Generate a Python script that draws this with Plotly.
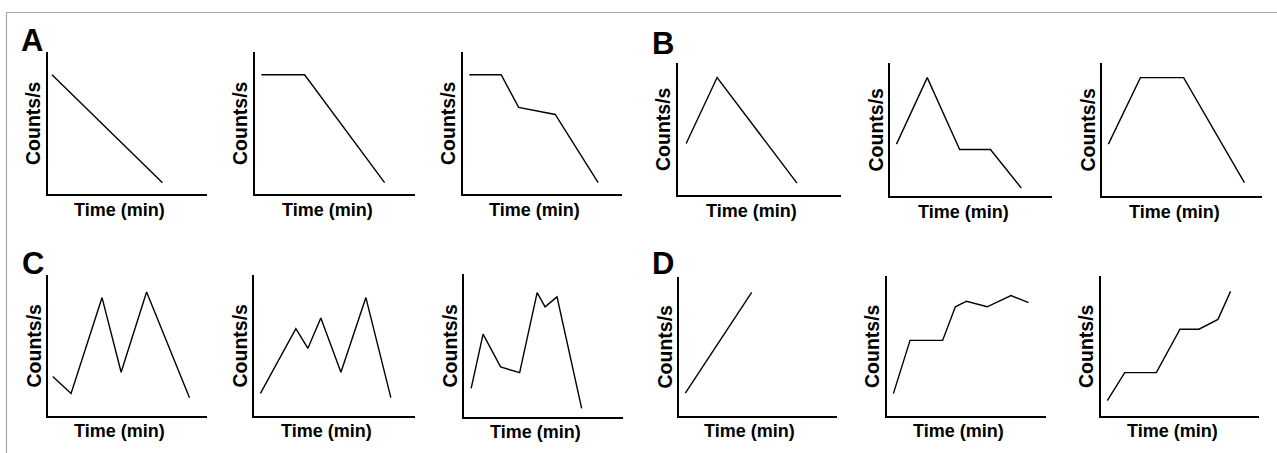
import plotly.graph_objects as go

W, H = 1277, 453

# ---- data (arbitrary units: time 0-100, counts/s 0-100) ----
a1_x = [2.5, 72]
a1_y = [84, 8]
a2_x = [4, 31, 81]
a2_y = [84, 84, 8]
a3_x = [4, 24, 35, 58, 85]
a3_y = [84, 84, 61, 56, 8]

b1_x = [5, 24, 73]
b1_y = [39, 89, 9]
b2_x = [4, 23, 43, 62, 81]
b2_y = [39, 89, 35, 35, 6]
b3_x = [4, 24, 51, 89]
b3_y = [39, 89, 89, 10]

c1_x = [3, 14.5, 34, 46, 62, 89]
c1_y = [28, 16, 84, 31, 88, 13]
c2_x = [4, 26, 33.5, 41.5, 54, 69.5, 85]
c2_y = [16, 62, 48, 69.5, 31, 84, 13]
c3_x = [4.5, 12, 23, 35, 46, 51, 58.5, 74]
c3_y = [20, 58, 35, 31, 87, 77, 84, 6]

d1_x = [4, 46]
d1_y = [16.5, 89]
d2_x = [4, 14.5, 35, 43, 50, 63, 78, 89]
d2_y = [16, 54, 54, 78, 82, 78, 86, 81]
d3_x = [4, 15, 35, 50, 62, 74, 82]
d3_y = [11, 31, 31, 62, 62, 69, 89]

series = [
    (a1_x, a1_y), (a2_x, a2_y), (a3_x, a3_y),
    (b1_x, b1_y), (b2_x, b2_y), (b3_x, b3_y),
    (c1_x, c1_y), (c2_x, c2_y), (c3_x, c3_y),
    (d1_x, d1_y), (d2_x, d2_y), (d3_x, d3_y),
]

panel_letters = ["A", "B", "C", "D"]
x_label = "Time (min)"
y_label = "Counts/s"

# ---- layout: axis boxes in pixels (left, right, top, bottom) ----
boxes = [
    (48, 207, 52, 194), (255, 415, 52, 194), (463, 622, 52, 194),
    (678, 841, 63, 195), (890, 1052, 63, 196), (1102, 1262, 63, 196),
    (48, 207, 275, 416), (254, 415, 275, 416), (464, 623, 274, 417),
    (679, 837, 277, 416), (887, 1046, 276, 416), (1101, 1259, 276, 416),
]
letter_pos = [(32, 40), (663, 43), (33, 263), (663, 263)]

fig = go.Figure()
font_family = "Liberation Sans, Arial, sans-serif"
annotations = []

for i, ((xs, ys), (l, r, t, b)) in enumerate(zip(series, boxes)):
    k = "" if i == 0 else str(i + 1)
    fig.add_trace(go.Scatter(
        x=xs, y=ys, mode="lines",
        line=dict(color="black", width=1.4),
        xaxis="x" + k, yaxis="y" + k, showlegend=False, hoverinfo="skip",
    ))
    ax = dict(
        domain=[l / W, r / W], range=[0, 100], showline=True, linecolor="black",
        linewidth=1.9, showgrid=False, zeroline=False, showticklabels=False,
        ticks="", fixedrange=True,
    )
    fig.layout["xaxis" + k] = dict(ax, anchor="y" + k)
    fig.layout["yaxis" + k] = dict(ax, domain=[1 - b / H, 1 - t / H], anchor="x" + k)

    row_top = i < 6
    ty = (b + 16) if row_top else (b + 15)
    annotations.append(dict(
        text="<b>%s</b>" % x_label, x=((l + r) / 2 - 8) / W, y=1 - ty / H,
        xref="paper", yref="paper", xanchor="center", yanchor="middle",
        showarrow=False, font=dict(size=18, color="black", family=font_family),
    ))
    annotations.append(dict(
        text="<b>%s</b>" % y_label, x=(l - 15) / W, y=1 - ((t + b) / 2) / H,
        xref="paper", yref="paper", xanchor="center", yanchor="middle",
        textangle=-90, showarrow=False,
        font=dict(size=19.5, color="black", family=font_family),
    ))

for letter, (px, py) in zip(panel_letters, letter_pos):
    annotations.append(dict(
        text="<b>%s</b>" % letter, x=px / W, y=1 - py / H,
        xref="paper", yref="paper", xanchor="center", yanchor="middle",
        showarrow=False, font=dict(size=31, color="black", family=font_family),
    ))

shapes = [
    dict(type="line", xref="paper", yref="paper", x0=6.5 / W, x1=1.0,
         y0=1 - 12.5 / H, y1=1 - 12.5 / H, line=dict(color="#a8a8a8", width=1.2)),
    dict(type="line", xref="paper", yref="paper", x0=6.5 / W, x1=6.5 / W,
         y0=1 - 12.5 / H, y1=0, line=dict(color="#a8a8a8", width=1.2)),
]

fig.update_layout(
    width=W, height=H, margin=dict(l=0, r=0, t=0, b=0),
    paper_bgcolor="white", plot_bgcolor="white",
    annotations=annotations, shapes=shapes, showlegend=False,
)

fig.write_html(
    "out.html",
    config={"displayModeBar": False},
    post_script="document.body.style.margin='0px';document.body.style.overflow='hidden';",
)
